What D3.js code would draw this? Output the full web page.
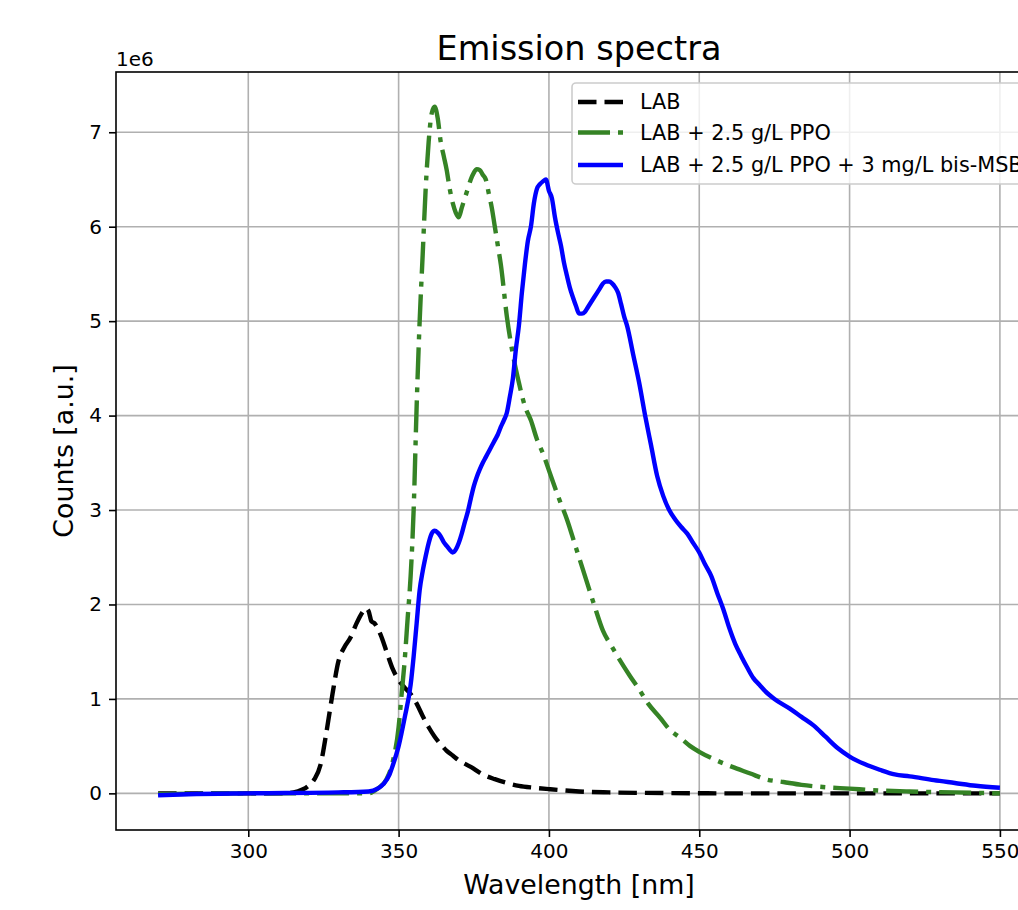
<!DOCTYPE html>
<html>
<head>
<meta charset="utf-8">
<script src="https://cdn.jsdelivr.net/npm/d3@7"></script>
<style>
  html, body { margin: 0; padding: 0; background: #fff; }
  svg { display: block; font-family: "DejaVu Sans", sans-serif; }
</style>
</head>
<body>
<svg id="chart" width="1018" height="910"></svg>
<script>
// ---- data (wavelength in nm, counts in units of 1e6) ----
const labWl   = [270, 300, 310, 315, 318, 320, 322, 324, 326, 328, 330, 332, 334, 336, 338, 339, 340, 341, 342, 344, 346, 348, 350, 352, 354, 356, 358, 360, 362, 364, 366, 368, 370, 374, 378, 382, 386, 390, 395, 400, 410, 420, 440, 460, 500, 550];
const labVal  = [0, 0, 0.0, 0.01, 0.04, 0.08, 0.15, 0.3, 0.65, 1.05, 1.4, 1.55, 1.65, 1.8, 1.92, 1.96, 1.93, 1.82, 1.8, 1.68, 1.5, 1.32, 1.2, 1.12, 1.05, 0.95, 0.82, 0.7, 0.6, 0.52, 0.45, 0.4, 0.35, 0.28, 0.2, 0.15, 0.11, 0.08, 0.06, 0.045, 0.02, 0.01, 0.003, 0, 0, 0];

const ppoWl   = [270, 300, 340, 343, 346, 348, 350, 351, 352, 353, 354, 355, 356, 357, 358, 359, 360, 361, 362, 363, 364, 365, 366, 367, 368, 369, 370, 371, 372, 373, 374, 375, 376, 377, 378, 379, 380, 381, 382, 383, 384, 386, 388, 390, 392, 394, 396, 398, 400, 403, 406, 409, 412, 415, 418, 421, 424, 427, 430, 433, 437, 440, 444, 447, 450, 455, 461, 467, 472, 478, 484, 490, 500, 510, 520, 535, 550];
const ppoVal  = [-0.01, 0, 0.0, 0.05, 0.15, 0.33, 0.7, 1.05, 1.4, 1.85, 2.3, 3.0, 4.1, 5.0, 5.7, 6.4, 6.9, 7.2, 7.27, 7.15, 6.9, 6.75, 6.6, 6.4, 6.25, 6.15, 6.1, 6.2, 6.3, 6.4, 6.5, 6.57, 6.61, 6.6, 6.55, 6.5, 6.35, 6.2, 6.0, 5.8, 5.6, 5.05, 4.65, 4.35, 4.1, 3.95, 3.75, 3.6, 3.42, 3.15, 2.9, 2.6, 2.3, 2.0, 1.72, 1.55, 1.39, 1.24, 1.1, 0.95, 0.8, 0.68, 0.58, 0.5, 0.44, 0.36, 0.28, 0.21, 0.15, 0.12, 0.09, 0.07, 0.05, 0.03, 0.02, 0.01, 0.0];

const msbWl   = [270, 280, 300, 330, 340, 343, 345, 347, 348, 350, 352, 354, 355, 356, 357, 358, 359, 360, 361, 362, 363, 364, 365, 366, 367, 368, 369, 370, 371, 372, 373, 374, 375, 376, 377, 378, 379, 380, 381, 382, 383, 384, 385, 386, 387, 388, 389, 390, 391, 392, 393, 394, 395, 396, 397, 398, 399, 400, 401, 402, 403, 404, 405, 406, 407, 408, 409, 410, 411, 412, 413, 414, 415, 416, 417, 418, 419, 420, 421, 422, 423, 424, 425, 426, 428, 430, 432, 434, 436, 438, 440, 442, 444, 446, 448, 450, 452, 454, 456, 458, 460, 462, 464, 466, 468, 470, 472, 475, 480, 484, 488, 492, 496, 500, 505, 510, 515, 520, 528, 535, 542, 550];
const msbVal  = [-0.02, -0.01, 0, 0.01, 0.02, 0.05, 0.1, 0.2, 0.29, 0.5, 0.8, 1.15, 1.45, 1.8, 2.15, 2.35, 2.51, 2.65, 2.75, 2.78, 2.76, 2.72, 2.66, 2.62, 2.58, 2.55, 2.58, 2.65, 2.75, 2.87, 2.98, 3.12, 3.25, 3.35, 3.43, 3.5, 3.56, 3.62, 3.68, 3.74, 3.8, 3.88, 3.95, 4.03, 4.2, 4.39, 4.7, 4.95, 5.3, 5.6, 5.85, 6.0, 6.25, 6.4, 6.45, 6.48, 6.5, 6.38, 6.3, 6.1, 5.94, 5.8, 5.62, 5.48, 5.35, 5.25, 5.16, 5.08, 5.08, 5.1, 5.15, 5.2, 5.25, 5.3, 5.35, 5.4, 5.42, 5.42, 5.4, 5.36, 5.3, 5.18, 5.05, 4.95, 4.65, 4.35, 4.0, 3.68, 3.36, 3.15, 3.0, 2.9, 2.82, 2.75, 2.65, 2.55, 2.42, 2.3, 2.12, 1.95, 1.75, 1.58, 1.45, 1.33, 1.22, 1.15, 1.08, 1.0, 0.9, 0.81, 0.72, 0.6, 0.48, 0.39, 0.31, 0.25, 0.2, 0.18, 0.14, 0.11, 0.08, 0.06];

const seriesNames = ["LAB", "LAB + 2.5 g/L PPO", "LAB + 2.5 g/L PPO + 3 mg/L bis-MSB"];
const xTicks = [300, 350, 400, 450, 500, 550];
const yTicks = [0, 1, 2, 3, 4, 5, 6, 7];
const titleText = "Emission spectra";
const xLabel = "Wavelength [nm]";
const yLabel = "Counts [a.u.]";
const yOffsetText = "1e6";

// ---- layout ----
const svg = d3.select("#chart");
const L = 116, R = 1042, T = 72, B = 830;
const x = d3.scaleLinear().domain([256, 564]).range([L, R]);
const y = d3.scaleLinear().domain([-0.388, 7.638]).range([B, T]);

const styles = [
  { color: "#000000", dash: "18.5,8" },
  { color: "#358325", dash: "32,8,5,8" },
  { color: "#0000ff", dash: null }
];
const LW = 4.4;

// grid
const grid = svg.append("g");
grid.selectAll("line.gx").data(xTicks).join("line")
  .attr("x1", d => x(d)).attr("x2", d => x(d)).attr("y1", T).attr("y2", B)
  .attr("stroke", "#b0b0b0").attr("stroke-width", 1.6);
grid.selectAll("line.gy").data(yTicks).join("line")
  .attr("y1", d => y(d)).attr("y2", d => y(d)).attr("x1", L).attr("x2", R)
  .attr("stroke", "#b0b0b0").attr("stroke-width", 1.6);

// clip
svg.append("clipPath").attr("id", "clip").append("rect")
  .attr("x", L).attr("y", T).attr("width", R - L).attr("height", B - T);

const line = d3.line().x(d => x(d[0])).y(d => y(d[1])).curve(d3.curveMonotoneX);
const series = [
  d3.zip(labWl, labVal),
  d3.zip(ppoWl, ppoVal),
  d3.zip(msbWl, msbVal)
];
const plot = svg.append("g").attr("clip-path", "url(#clip)");
series.forEach((s, i) => {
  plot.append("path").datum(s).attr("d", line)
    .attr("fill", "none").attr("stroke", styles[i].color)
    .attr("stroke-width", LW).attr("stroke-linejoin", "round")
    .attr("stroke-dasharray", styles[i].dash);
});

// axes
const xAxis = d3.axisBottom(x).tickValues(xTicks).tickSize(7).tickPadding(7).tickFormat(d3.format("d"));
const yAxis = d3.axisLeft(y).tickValues(yTicks).tickSize(7).tickPadding(7).tickFormat(d3.format("d"));
const gx = svg.append("g").attr("transform", `translate(0,${B})`).call(xAxis);
const gy = svg.append("g").attr("transform", `translate(${L},0)`).call(yAxis);
[gx, gy].forEach(g => {
  g.select(".domain").remove();
  g.selectAll(".tick line").attr("stroke", "#000").attr("stroke-width", 1.6);
  g.selectAll(".tick text").attr("fill", "#000").style("font-size", "20px").style("font-family", "DejaVu Sans");
});

// spines
svg.append("rect").attr("x", L).attr("y", T).attr("width", R - L).attr("height", B - T)
  .attr("fill", "none").attr("stroke", "#000").attr("stroke-width", 1.6);

// offset text
svg.append("text").attr("x", L).attr("y", 66).text(yOffsetText)
  .style("font-size", "20px").attr("fill", "#000");

// title & labels
svg.append("text").attr("x", (L + R) / 2).attr("y", 60).attr("text-anchor", "middle")
  .style("font-size", "33.5px").attr("fill", "#000").text(titleText);
svg.append("text").attr("x", (L + R) / 2).attr("y", 894).attr("text-anchor", "middle")
  .style("font-size", "26.8px").attr("fill", "#000").text(xLabel);
svg.append("text").attr("transform", `translate(73,${(T + B) / 2}) rotate(-90)`).attr("text-anchor", "middle")
  .style("font-size", "26.8px").attr("fill", "#000").text(yLabel);

// legend
const lg = svg.append("g");
lg.append("rect").attr("x", 572).attr("y", 83).attr("width", 460).attr("height", 101)
  .attr("rx", 4).attr("fill", "#fff").attr("fill-opacity", 0.8)
  .attr("stroke", "#cccccc").attr("stroke-width", 1.6);
const rowY = [102, 132.5, 165];
seriesNames.forEach((name, i) => {
  lg.append("line").attr("x1", 578).attr("x2", 623).attr("y1", rowY[i]).attr("y2", rowY[i])
    .attr("stroke", styles[i].color).attr("stroke-width", LW).attr("stroke-dasharray", styles[i].dash);
  lg.append("text").attr("x", 640).attr("y", rowY[i]).attr("dy", "0.36em")
    .style("font-size", "20.8px").attr("fill", "#000").text(name);
});
</script>
</body>
</html>
